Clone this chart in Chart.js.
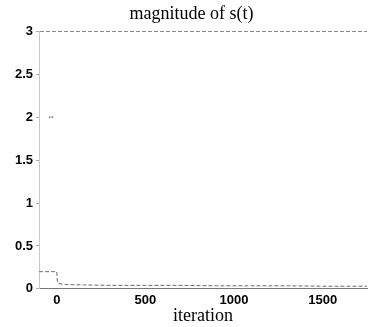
<!DOCTYPE html>
<html>
<head>
<meta charset="utf-8">
<script src="https://cdn.jsdelivr.net/npm/chart.js@4/dist/chart.umd.min.js"></script>
<style>
  html, body { margin: 0; padding: 0; background: #fff; }
  #wrap { width: 371px; height: 327px; }
</style>
</head>
<body>
<div id="wrap"><canvas id="chart1"></canvas></div>
<script>
// magnitude of s(t) against iteration
const iterations = [-100, -80, -60, -40, -20, 0, 3, 10, 50, 150, 300, 500, 700, 900, 1100, 1300, 1500, 1750]
const magnitudes = [0.2, 0.2, 0.2, 0.2, 0.2, 0.2, 0.09, 0.06, 0.05, 0.045, 0.04, 0.04, 0.04, 0.035, 0.035, 0.035, 0.03, 0.03]

const startIterations = [-40, -25]
const startMagnitudes = [2, 2]

const xTicks = [0, 500, 1000, 1500]
const yTicks = [0, 0.5, 1, 1.5, 2, 2.5, 3]

const toPoints = (xs, ys) => xs.map((x, i) => ({ x, y: ys[i] }))

const data = {
  datasets: [{
    data: toPoints(iterations, magnitudes),
    showLine: true,
    borderColor: '#6a6a6a',
    borderWidth: 1,
    borderDash: [4, 2],
    pointRadius: 0
  }, {
    data: toPoints(startIterations, startMagnitudes),
    showLine: false,
    backgroundColor: '#888',
    borderWidth: 0,
    pointRadius: 1
  }]
}

const tickFont = { family: 'Liberation Sans', size: 13, weight: 'bold' }

const options = {
  responsive: true,
  maintainAspectRatio: false,
  animation: false,
  layout: {
    padding: { left: 12, right: 0, top: 0, bottom: 0 }
  },
  plugins: {
    legend: { display: false },
    tooltip: { enabled: false },
    title: {
      display: true,
      text: 'magnitude of s(t)',
      color: '#000',
      font: { family: 'Liberation Serif', size: 18, weight: 'normal' },
      padding: { top: 3, bottom: 7 }
    }
  },
  scales: {
    x: {
      type: 'linear',
      min: -100,
      max: 1750,
      afterBuildTicks: axis => { axis.ticks = xTicks.map(value => ({ value })) },
      grid: { display: false, drawTicks: false },
      border: { display: true, color: '#777', width: 1 },
      ticks: {
        color: '#000',
        font: tickFont,
        padding: 4,
        callback: v => String(v)
      },
      title: {
        display: true,
        text: 'iteration',
        color: '#000',
        font: { family: 'Liberation Serif', size: 18, weight: 'normal' },
        padding: { top: -7, bottom: 0 }
      }
    },
    y: {
      min: 0,
      max: 3,
      afterBuildTicks: axis => { axis.ticks = yTicks.map(value => ({ value })) },
      grid: {
        color: ctx => ctx.tick && ctx.tick.value === 3 ? '#8a8a8a' : 'rgba(0,0,0,0)',
        tickColor: '#aaa',
        tickLength: 3,
        lineWidth: 1
      },
      border: { display: true, color: '#c8c8c8', width: 1, dash: [4, 2] },
      ticks: {
        color: '#000',
        font: tickFont,
        padding: 3,
        callback: v => String(v)
      }
    }
  }
}

new Chart('chart1', {
  type: 'scatter',
  data,
  options
})
</script>
</body>
</html>
